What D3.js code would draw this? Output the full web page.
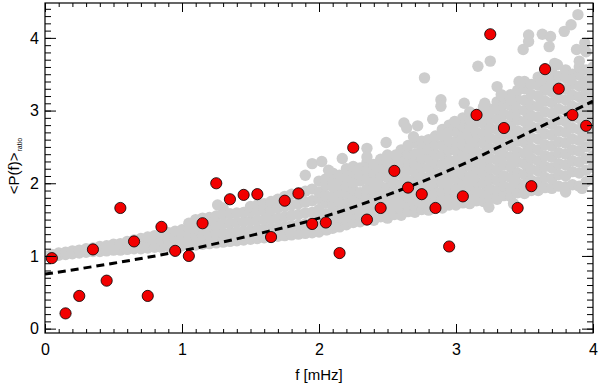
<!DOCTYPE html>
<meta charset="utf-8">
<script src="https://d3js.org/d3.v7.min.js"></script>
<style>
  body { margin: 0; background: #fff; }
  text { font-family: "Liberation Sans", Arial, Helvetica, sans-serif; fill: #000; }
</style>

<div id="my_chart"></div>

<script>

// red points: frequency (mHz) and mean power ratio
var redF = [0.05, 0.15, 0.25, 0.35, 0.45, 0.55, 0.65, 0.75, 0.85, 0.95,
            1.05, 1.15, 1.25, 1.35, 1.45, 1.55, 1.65, 1.75, 1.85, 1.95,
            2.05, 2.15, 2.25, 2.35, 2.45, 2.55, 2.65, 2.75, 2.85, 2.95,
            3.05, 3.15, 3.25, 3.35, 3.45, 3.55, 3.65, 3.75, 3.85, 3.95];
var redP = [0.97, 0.21, 0.45, 1.09, 0.66, 1.66, 1.20, 0.45, 1.40, 1.07,
            1.00, 1.45, 2.00, 1.78, 1.84, 1.85, 1.26, 1.76, 1.86, 1.44,
            1.46, 1.04, 2.49, 1.50, 1.66, 2.17, 1.94, 1.85, 1.66, 1.13,
            1.82, 2.94, 4.05, 2.76, 1.66, 1.96, 3.57, 3.30, 2.94, 2.79];

// grey cloud, read column by column
var cloudF = [0.00, 0.05, 0.10, 0.15, 0.20, 0.25, 0.30, 0.35, 0.40, 0.45,
              0.50, 0.55, 0.60, 0.65, 0.70, 0.75, 0.80, 0.85, 0.90, 0.95,
              1.00, 1.05, 1.10, 1.15, 1.20, 1.25, 1.30, 1.35, 1.40, 1.45,
              1.50, 1.55, 1.60, 1.65, 1.70, 1.75, 1.80, 1.85, 1.90, 1.95,
              2.00, 2.05, 2.10, 2.15, 2.20, 2.25, 2.30, 2.35, 2.40, 2.45,
              2.50, 2.55, 2.60, 2.65, 2.70, 2.75, 2.80, 2.85, 2.90, 2.95,
              3.00, 3.05, 3.10, 3.15, 3.20, 3.25, 3.30, 3.35, 3.40, 3.45,
              3.50, 3.55, 3.60, 3.65, 3.70, 3.75, 3.80, 3.85, 3.90, 3.95, 4.00];
var cloudP = [
  [1.00], [1.00, 1.02], [1.01, 1.04], [1.02, 1.05], [1.03, 1.07],
  [1.04, 1.08], [1.05, 1.10], [1.06, 1.11], [1.06, 1.13], [1.07, 1.14],
  [1.08, 1.16], [1.08, 1.17], [1.09, 1.20], [1.10, 1.22], [1.10, 1.17, 1.24],
  [1.11, 1.19, 1.26], [1.12, 1.20, 1.28], [1.12, 1.21, 1.30], [1.13, 1.23, 1.32], [1.13, 1.24, 1.34],
  [1.14, 1.25, 1.36], [1.15, 1.26, 1.38, 1.45], [1.15, 1.27, 1.39, 1.50], [1.16, 1.28, 1.40, 1.52], [1.17, 1.29, 1.41, 1.53],
  [1.18, 1.30, 1.42, 1.55], [1.19, 1.31, 1.44, 1.57, 1.66], [1.20, 1.32, 1.45, 1.58], [1.21, 1.33, 1.46, 1.59], [1.22, 1.34, 1.47, 1.60],
  [1.23, 1.35, 1.48, 1.61, 1.68], [1.24, 1.36, 1.49, 1.62, 1.70], [1.25, 1.37, 1.50, 1.63, 1.72], [1.26, 1.38, 1.51, 1.64, 1.75], [1.27, 1.39, 1.52, 1.66, 1.78],
  [1.28, 1.40, 1.54, 1.68, 1.82], [1.29, 1.42, 1.56, 1.70, 1.85], [1.30, 1.43, 1.57, 1.72, 1.87], [1.31, 1.44, 1.59, 1.74, 1.89], [1.32, 1.46, 1.60, 1.76, 1.92],
  [1.33, 1.41, 1.56, 1.64, 1.79, 1.88, 2.03],
  [1.36, 1.49, 1.58, 1.73, 1.83, 1.97, 2.06],
  [1.38, 1.46, 1.60, 1.69, 1.81, 1.95, 2.04, 2.14],
  [1.40, 1.53, 1.62, 1.76, 1.88, 1.98, 2.11],
  [1.43, 1.50, 1.63, 1.72, 1.86, 1.96, 2.08, 2.20],
  [1.46, 1.57, 1.65, 1.79, 1.91, 2.01, 2.15, 2.23],
  [1.47, 1.55, 1.66, 1.75, 1.87, 2.03, 2.11, 2.21],
  [1.51, 1.60, 1.70, 1.83, 1.92, 2.06, 2.18, 2.29],
  [1.49, 1.58, 1.68, 1.78, 1.90, 2.01, 2.14, 2.26],
  [1.54, 1.63, 1.74, 1.86, 1.96, 2.10, 2.22, 2.33],
  [1.52, 1.60, 1.71, 1.81, 1.94, 2.08, 2.18, 2.30, 2.39],
  [1.57, 1.67, 1.78, 1.89, 2.00, 2.14, 2.24, 2.36],
  [1.56, 1.64, 1.73, 1.85, 1.98, 2.12, 2.22, 2.34, 2.46],
  [1.61, 1.69, 1.81, 1.93, 2.04, 2.18, 2.31, 2.41, 2.52],
  [1.60, 1.68, 1.77, 1.90, 2.02, 2.15, 2.27, 2.40, 2.55],
  [1.64, 1.73, 1.84, 1.96, 2.09, 2.22, 2.34, 2.47, 2.58],
  [1.63, 1.72, 1.83, 1.95, 2.08, 2.21, 2.34, 2.47, 2.60],
  [1.67, 1.77, 1.88, 2.01, 2.14, 2.27, 2.40, 2.53, 2.65],
  [1.66, 1.76, 1.87, 2.00, 2.13, 2.26, 2.39, 2.52, 2.65, 2.74],
  [1.70, 1.80, 1.92, 2.05, 2.18, 2.31, 2.45, 2.58, 2.71, 2.80],
  [1.70, 1.80, 1.93, 2.06, 2.19, 2.32, 2.45, 2.58, 2.71, 2.84],
  [1.73, 1.86, 1.99, 2.12, 2.26, 2.39, 2.52, 2.65, 2.78, 2.90],
  [1.72, 1.83, 1.96, 2.09, 2.23, 2.36, 2.49, 2.62, 2.75, 2.88, 2.98],
  [1.76, 1.89, 2.02, 2.16, 2.30, 2.43, 2.57, 2.70, 2.84, 2.95],
  [1.75, 1.86, 2.00, 2.13, 2.27, 2.41, 2.55, 2.68, 2.82, 2.96, 3.05],
  [1.79, 1.92, 2.06, 2.20, 2.34, 2.48, 2.62, 2.76, 2.90, 3.02],
  [1.78, 1.90, 2.04, 2.18, 2.32, 2.46, 2.60, 2.74, 2.88, 3.02, 3.12],
  [1.83, 1.96, 2.10, 2.25, 2.39, 2.53, 2.67, 2.81, 2.95, 3.09, 3.18],
  [1.82, 1.94, 2.08, 2.22, 2.36, 2.51, 2.65, 2.79, 2.93, 3.07, 3.22],
  [1.87, 2.00, 2.14, 2.29, 2.43, 2.58, 2.72, 2.87, 3.01, 3.15, 3.28],
  [1.86, 1.98, 2.12, 2.27, 2.41, 2.56, 2.70, 2.85, 3.00, 3.14, 3.30, 3.40],
  [1.90, 2.04, 2.19, 2.34, 2.48, 2.63, 2.78, 2.93, 3.07, 3.22, 3.36],
  [1.90, 2.02, 2.17, 2.31, 2.46, 2.61, 2.76, 2.91, 3.06, 3.20, 3.35, 3.46],
  [1.94, 2.08, 2.23, 2.38, 2.53, 2.68, 2.83, 2.98, 3.13, 3.28, 3.42],
  [1.93, 2.06, 2.21, 2.36, 2.51, 2.66, 2.81, 2.96, 3.11, 3.26, 3.40, 3.52],
  [1.96, 2.12, 2.27, 2.42, 2.57, 2.72, 2.87, 3.02, 3.17, 3.32, 3.47],
  [1.95, 2.10, 2.25, 2.40, 2.55, 2.70, 2.85, 3.00, 3.15, 3.30, 3.45, 3.56],
  [1.98, 2.16, 2.31, 2.46, 2.61, 2.76, 2.91, 3.06, 3.21, 3.36, 3.50],
  [1.96, 2.14, 2.29, 2.44, 2.59, 2.74, 2.89, 3.04, 3.19, 3.34, 3.49, 3.60],
  [2.02, 2.18, 2.34, 2.50, 2.65, 2.80, 2.95, 3.10, 3.25, 3.40, 3.56],
  [2.05, 2.22, 2.38, 2.54, 2.70, 2.86, 3.02, 3.17, 3.32, 3.47, 3.60]
];

// scattered grey points outside the dense cloud
var sparseF = [1.90, 1.95, 2.02, 2.07, 2.17, 2.35, 2.35, 2.49, 2.56, 2.62,
               2.64, 2.72, 2.69, 2.77, 2.83, 2.89, 2.89, 2.94, 2.99, 3.06,
               3.16, 3.25, 3.21, 3.30, 3.33, 3.40, 3.46, 3.49, 3.53, 3.53,
               3.63, 3.69, 3.68, 3.62, 3.67, 3.72, 3.74, 3.79, 3.84, 3.89,
               3.88, 3.90, 3.84, 3.94, 3.95, 3.94, 3.97, 2.06, 3.24, 3.42,
               3.80, 3.92, 1.26];
var sparseP = [2.11, 2.27, 2.30, 2.18, 2.34, 2.48, 2.36, 2.56, 2.39, 2.83,
               2.76, 2.79, 2.64, 3.45, 2.88, 3.15, 3.06, 2.69, 2.85, 3.10,
               3.61, 3.68, 3.10, 3.33, 3.22, 3.15, 3.40, 3.84, 4.04, 3.95,
               4.05, 4.02, 3.88, 3.42, 3.29, 3.65, 3.63, 4.09, 4.18, 4.32,
               3.84, 3.68, 3.42, 3.93, 3.81, 3.38, 3.54, 1.36, 1.67, 1.72,
               1.88, 1.93, 1.70];

// dashed fit curve
var fitF = [0.0, 0.5, 1.0, 1.5, 2.0, 2.5, 3.0, 3.5, 4.0];
var fitP = [0.75, 0.90, 1.07, 1.28, 1.52, 1.84, 2.22, 2.67, 3.13];

var xTicks = [0, 1, 2, 3, 4];
var yTicks = [0, 1, 2, 3, 4];

// plot box
var margin = {top: 3, right: 7, bottom: 54, left: 45},
    width = 600 - margin.left - margin.right,
    height = 387 - margin.top - margin.bottom;

var svg = d3.select("#my_chart")
  .append("svg")
    .attr("width", 600)
    .attr("height", 387)
  .append("g")
    .attr("transform", "translate(" + margin.left + "," + margin.top + ")");

var x = d3.scaleLinear().domain([0, 4]).range([0, width]);
var y = d3.scaleLinear().domain([-0.06, 4.48]).range([height, 0]);

svg.append("clipPath")
    .attr("id", "plotclip")
  .append("rect")
    .attr("width", width)
    .attr("height", height);

// flatten the cloud columns
var cloud = [];
cloudF.forEach(function(f, i) {
  cloudP[i].forEach(function(p) { cloud.push([f, p]); });
});
sparseF.forEach(function(f, i) { cloud.push([f, sparseP[i]]); });

svg.append("g")
    .attr("clip-path", "url(#plotclip)")
  .selectAll("circle")
  .data(cloud)
  .enter()
  .append("circle")
    .attr("cx", function(d) { return x(d[0]); })
    .attr("cy", function(d) { return y(d[1]); })
    .attr("r", 5.7)
    .attr("fill", "#cdcdcd");

// dashed curve
var line = d3.line()
  .x(function(d, i) { return x(fitF[i]); })
  .y(function(d) { return y(d); })
  .curve(d3.curveMonotoneX);

svg.append("path")
    .datum(fitP)
    .attr("d", line)
    .attr("fill", "none")
    .attr("stroke", "#000")
    .attr("stroke-width", 3)
    .attr("stroke-dasharray", "8,5")
    .attr("clip-path", "url(#plotclip)");

// red points
svg.append("g")
  .selectAll("circle")
  .data(redF)
  .enter()
  .append("circle")
    .attr("cx", function(d) { return x(d); })
    .attr("cy", function(d, i) { return y(redP[i]); })
    .attr("r", 5.6)
    .attr("fill", "#f20000")
    .attr("stroke", "#000")
    .attr("stroke-width", 0.8);

// axes: ticks on all four sides, pointing inward
var xMinor = d3.range(0, 41).map(function(k) { return k / 10; });
var yMinor = d3.range(0, 45).map(function(k) { return k / 10; });

function styleAxis(g) {
  g.select(".domain").remove();
  g.selectAll("line").attr("stroke", "#000").attr("stroke-width", 1);
  g.selectAll("text").style("font-size", "16px").attr("fill", "#000");
}

svg.append("g")
    .attr("transform", "translate(0," + height + ")")
    .call(d3.axisBottom(x).tickValues(xMinor).tickSize(-4).tickFormat(""))
    .call(styleAxis);
svg.append("g")
    .attr("transform", "translate(0," + height + ")")
    .call(d3.axisBottom(x).tickValues(xTicks).tickSize(-9).tickPadding(11).tickFormat(d3.format("d")))
    .call(styleAxis);
svg.append("g")
    .call(d3.axisTop(x).tickValues(xMinor).tickSize(-4).tickFormat(""))
    .call(styleAxis);
svg.append("g")
    .call(d3.axisTop(x).tickValues(xTicks).tickSize(-9).tickFormat(""))
    .call(styleAxis);

svg.append("g")
    .call(d3.axisLeft(y).tickValues(yMinor).tickSize(-6).tickFormat(""))
    .call(styleAxis);
svg.append("g")
    .call(d3.axisLeft(y).tickValues(yTicks).tickSize(-11).tickPadding(6).tickFormat(d3.format("d")))
    .call(styleAxis);
svg.append("g")
    .attr("transform", "translate(" + width + ",0)")
    .call(d3.axisRight(y).tickValues(yMinor).tickSize(-6).tickFormat(""))
    .call(styleAxis);
svg.append("g")
    .attr("transform", "translate(" + width + ",0)")
    .call(d3.axisRight(y).tickValues(yTicks).tickSize(-11).tickFormat(""))
    .call(styleAxis);

// frame
svg.append("rect")
    .attr("width", width)
    .attr("height", height)
    .attr("fill", "none")
    .attr("stroke", "#000")
    .attr("stroke-width", 1.2);

// axis titles
svg.append("text")
    .attr("x", width / 2)
    .attr("y", height + 47)
    .attr("text-anchor", "middle")
    .style("font-size", "15px")
    .text("f [mHz]");

var ylab = svg.append("text")
    .attr("transform", "translate(-26," + (height / 2 - 2) + ") rotate(-90)")
    .attr("text-anchor", "middle")
    .style("font-size", "15px");
ylab.append("tspan").text("<P(f)>");
ylab.append("tspan")
    .attr("dy", 3)
    .attr("dx", 1)
    .style("font-size", "7px")
    .text("ratio");

</script>
